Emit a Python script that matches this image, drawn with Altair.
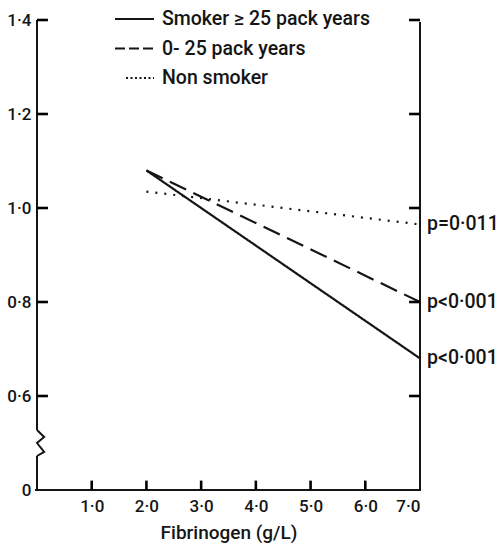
import altair as alt
import pandas as pd

# ---- data ----
series = ["Smoker \u2265 25 pack years", "0- 25 pack years", "Non smoker"]
x_start = [2.0, 2.0, 2.0]
x_end = [7.0, 7.0, 7.0]
y_start = [1.08, 1.08, 1.035]
y_end = [0.68, 0.80, 0.965]
p_labels = ["p<0\u00b7001", "p<0\u00b7001", "p=0\u00b7011"]
y_ticks = [0.4, 0.6, 0.8, 1.0, 1.2, 1.4]   # 0.4 is shown as "0" (broken axis)
x_ticks = [1.0, 2.0, 3.0, 4.0, 5.0, 6.0, 7.0]

ink = "#151515"
font = "Roboto"
fw = 500
W, H = 383, 470

rows = []
for s, xa, xb, ya, yb in zip(series, x_start, x_end, y_start, y_end):
    rows.append({"series": s, "x": xa, "y": ya})
    rows.append({"series": s, "x": xb, "y": yb})
lines_df = pd.DataFrame(rows)
end_df = pd.DataFrame({"x": x_end, "y": y_end, "p": p_labels})

xscale = alt.Scale(domain=[0, 7], nice=False, zero=False)
yscale = alt.Scale(domain=[0.4, 1.4], nice=False, zero=False)

lines = alt.Chart(lines_df).mark_line(color=ink, strokeWidth=2.2, strokeCap="butt").encode(
    x=alt.X("x:Q", scale=xscale,
            axis=alt.Axis(values=x_ticks, labelExpr="replace(format(datum.value, '.1f'), '.', '\u00b7')",
                          title="Fibrinogen (g/L)", tickSize=0, domain=False, grid=False,
                          labelFont=font, labelFontSize=17, labelFontWeight=fw, labelColor=ink,
                          labelPadding=8,
                          titleFont=font, titleFontSize=19, titleFontWeight=fw,
                          titleColor=ink, titlePadding=9)),
    y=alt.Y("y:Q", scale=yscale,
            axis=alt.Axis(values=y_ticks,
                          labelExpr="datum.value < 0.5 ? '0' : replace(format(datum.value, '.1f'), '.', '\u00b7')",
                          title=None, tickSize=0, domain=False, grid=False,
                          labelFont=font, labelFontSize=17, labelFontWeight=fw, labelColor=ink,
                          labelPadding=6)),
    detail="series:N",
    strokeDash=alt.StrokeDash("series:N", scale=alt.Scale(domain=series, range=[[1, 0], [18, 8], [2, 7]]),
                              legend=None),
)

ptext = alt.Chart(end_df).mark_text(align="left", baseline="middle", dx=7, font=font,
                                    fontSize=19.5, fontWeight=fw, color=ink).encode(
    x=alt.X("x:Q", scale=xscale), y=alt.Y("y:Q", scale=yscale), text="p:N")

# inward ticks as short two-point segments built from the tick lists
tick_len_x = 0.2     # in x units (~11 px)
tick_len_y = 0.02    # in y units (~9 px)
seg = []
for v in y_ticks[1:]:
    seg += [{"id": f"L{v}", "x": 0.0, "y": v}, {"id": f"L{v}", "x": tick_len_x, "y": v}]
    seg += [{"id": f"R{v}", "x": 7.0, "y": v}, {"id": f"R{v}", "x": 7.0 - tick_len_x, "y": v}]
for v in x_ticks[:-1]:
    seg += [{"id": f"B{v}", "x": v, "y": 0.4}, {"id": f"B{v}", "x": v, "y": 0.4 + tick_len_y}]
ticks = alt.Chart(pd.DataFrame(seg)).mark_line(color="#000000", strokeWidth=2.6).encode(
    x=alt.X("x:Q", scale=xscale), y=alt.Y("y:Q", scale=yscale), detail="id:N")

one = pd.DataFrame({"a": [0]})
left_top = alt.Chart(one).mark_rule(color=ink, strokeWidth=2).encode(
    x=alt.value(0), y=alt.value(0), y2=alt.value(410))
left_bot = alt.Chart(one).mark_rule(color=ink, strokeWidth=2).encode(
    x=alt.value(0), y=alt.value(436), y2=alt.value(H))
zigzag = alt.Chart(one).mark_point(
    shape="M0,-1L0.55,-0.46L0,0L0.55,0.69L0,1", filled=False, size=676,
    color=ink, strokeWidth=2, opacity=1).encode(x=alt.value(0), y=alt.value(423))
right_axis = alt.Chart(one).mark_rule(color=ink, strokeWidth=2).encode(
    x=alt.value(W), y=alt.value(2), y2=alt.value(H))
bottom_axis = alt.Chart(one).mark_rule(color=ink, strokeWidth=2).encode(
    x=alt.value(-2), x2=alt.value(W + 1), y=alt.value(H))

# manual legend
leg_layers = []
leg_dash = [[1, 0], [10, 4], [2, 2.5]]
leg_x0 = [78, 78, 89]
for i, (s, d, x0) in enumerate(zip(series, leg_dash, leg_x0)):
    yy = -1 + 29.5 * i
    leg_layers.append(alt.Chart(one).mark_rule(color=ink, strokeWidth=2.2, strokeDash=d).encode(
        x=alt.value(x0), x2=alt.value(117), y=alt.value(yy)))
    leg_layers.append(alt.Chart(pd.DataFrame({"t": [s]})).mark_text(
        align="left", baseline="middle", font=font, fontSize=19.5, fontWeight=fw, color=ink).encode(
        x=alt.value(125), y=alt.value(yy), text="t:N"))

chart = alt.layer(
    lines, ptext,
    left_top, left_bot, zigzag, right_axis, bottom_axis, *leg_layers, ticks
).properties(
    width=W, height=H,
    autosize=alt.AutoSizeParams(type="none"),
    padding={"left": 37, "top": 20, "right": 81, "bottom": 59},
    background="white",
).configure_view(stroke=None)

chart.save("out.html", embed_options={"renderer": "svg", "actions": False})
